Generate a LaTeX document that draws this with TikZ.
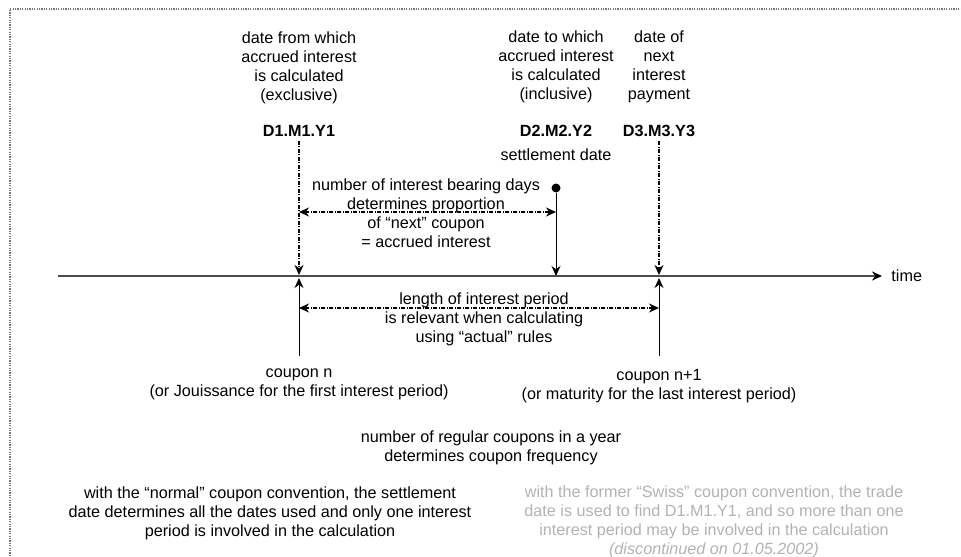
\documentclass[tikz,border=0pt]{standalone}
\usepackage{fontspec}
\setmainfont{Liberation Sans}
\usepackage{xcolor}
\usepackage{tikz}
\usetikzlibrary{positioning}
\usetikzlibrary{arrows.meta}

\begin{document}
\begin{tikzpicture}[x=0.5pt, y=-0.5pt,
		every node/.style={font=\fontsize{8.1}{9.5}\selectfont, align=center, inner sep=0pt},
		onetip/.style={-{Stealth[length=5pt, width=4.5pt]}},
		twotips/.style={{Stealth[length=5pt, width=4.5pt]}-{Stealth[length=5pt, width=4.5pt]}},
		dashdot/.style={line width=0.8pt, dash pattern=on 2pt off 0.75pt on 0.5pt off 0.75pt},
		note/.style={text=black!30}]
		\useasboundingbox (0,0) rectangle (961,556);
		\draw [black!55, line width=1pt, dash pattern=on 0.6pt off 0.6pt] (10,556) -- (10,9) -- (961,9);
		\coordinate (t0) at (58,276);
		\coordinate (t1) at (882,276);
		\coordinate (c1) at (299,276);
		\coordinate (c2) at (556,276);
		\coordinate (c3) at (659,276);
		\node [right=4.5pt of t1] (time) {time};
		\node (d1) at (299,131) {\textbf{D1.M1.Y1}};
		\node (d2) at (556,131) {\textbf{D2.M2.Y2}};
		\node (d3) at (659,131) {\textbf{D3.M3.Y3}};
		\node [above=10.6pt of d1] (from) {date from which\\accrued interest\\is calculated\\(exclusive)};
		\node [above=10.6pt of d2] (to) {date to which\\accrued interest\\is calculated\\(inclusive)};
		\node [above=10.6pt of d3] (next) {date of\\next\\interest\\payment};
		\node [below=5.6pt of d2] (settledate) {settlement date};
		\node [circle, fill, minimum size=4.5pt] (settle) at (556,188) {};
		\coordinate (a1) at (299,212);
		\coordinate (a2) at (556,212);
		\node (days) at (426,213) {number of interest bearing days\\determines proportion\\of “next” coupon\\= accrued interest};
		\coordinate (b1) at (299,356);
		\coordinate (b2) at (659,356);
		\coordinate (l1) at (299,308);
		\coordinate (l2) at (659,308);
		\node (length) at (484,319) {length of interest period\\is relevant when calculating\\using “actual” rules};
		\node [below=6.3pt of b1] (cpn) {coupon n\\(or Jouissance for the first interest period)};
		\node [below=6.3pt of b2] (cpnext) {coupon n+1\\(or maturity for the last interest period)};
		\node (freq) at (491,448) {number of regular coupons in a year\\determines coupon frequency};
		\node (normal) at (270,513) {with the “normal” coupon convention, the settlement\\date determines all the dates used and only one interest\\period is involved in the calculation};
		\node [note] (swiss) at (714,521.5) {with the former “Swiss” coupon convention, the trade\\date is used to find D1.M1.Y1, and so more than one\\interest period may be involved in the calculation\\\textit{(discontinued on 01.05.2002)}};
		\draw [black!70, line width=1pt, -{Stealth[length=5pt, width=4.5pt, black]}] (t0) -- (t1);
		\path [onetip, line width=0.5pt]
			(settle) edge [] (c2)
			(b1) edge [shorten >=1pt] (c1)
			(b2) edge [shorten >=1pt] (c3);
		\path [onetip, dashdot]
			(d1) edge [shorten <=2pt, shorten >=0.5pt] (c1)
			(d3) edge [shorten <=2pt, shorten >=0.5pt] (c3);
		\path [twotips, dashdot]
			(a1) edge [] (a2)
			(l1) edge [] (l2);
	\end{tikzpicture}
\end{document}
